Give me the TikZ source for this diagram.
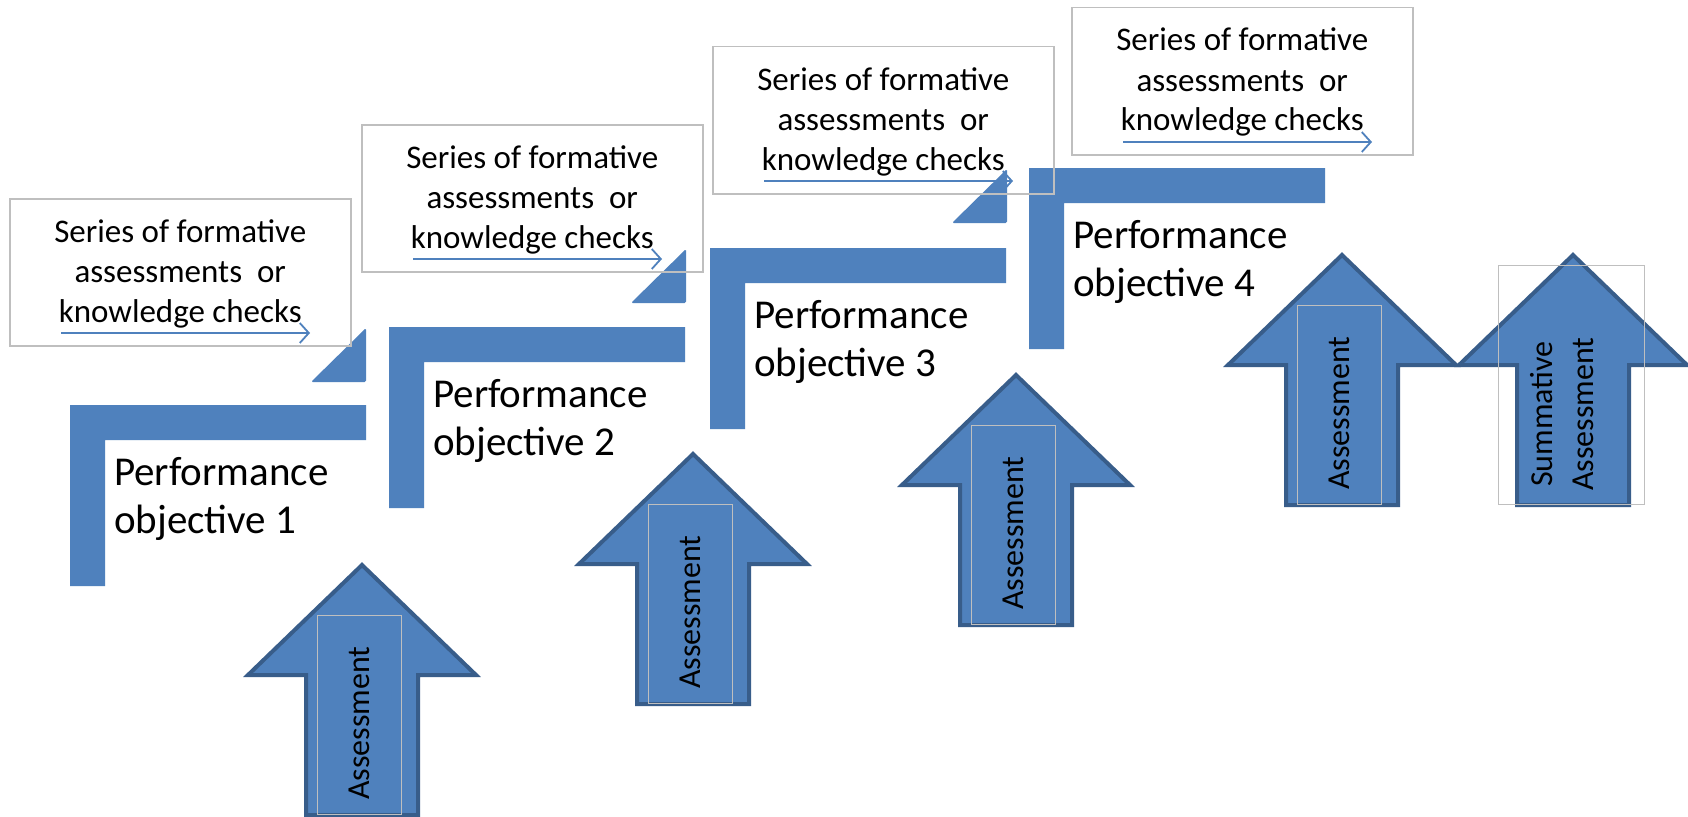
\documentclass[tikz,border=0pt]{standalone}
\usepackage{fontspec}
\setmainfont{Carlito}
\usetikzlibrary{arrows.meta,calc}
\definecolor{obl}{HTML}{4F81BD}
\definecolor{obd}{HTML}{385D8A}
\definecolor{gbox}{HTML}{BFBFBF}
\newcommand\myLbar[2]{\fill[lbar] (#1,#2) -- (#1+296,#2) -- (#1+296,#2+35) -- (#1+35,#2+35) -- (#1+35,#2+181) -- (#1,#2+181) -- cycle;}
\newcommand\myTri[2]{\fill[tri] (#1-55,#2) -- (#1,#2) -- (#1,#2-54) -- cycle;}
\newcommand\myUp[3]{% name, tipx, tipy
  \draw[upar] (#2,#3+3) -- (#2+114,#3+113) -- (#2+56,#3+113) -- (#2+56,#3+253) -- (#2-56,#3+253) -- (#2-56,#3+113) -- (#2-114,#3+113) -- cycle;
  \node[ibox, anchor=north west] (#1box) at (#2-45,#3+53) {};
  \node[atext] (#1txt) at (#2-3,#3+161) {Assessment};
}
\begin{document}
\begin{tikzpicture}[x=1pt,y=-1pt,
  lbar/.style={fill=obl},
  tri/.style={fill=obl, rounded corners=1.5pt},
  upar/.style={fill=obl, draw=obd, line width=4pt, line join=miter},
  tbox/.style={draw=gbox, line width=1.5pt, minimum width=341pt, minimum height=147pt, inner sep=0pt, anchor=north west},
  ibox/.style={draw=gbox, line width=1.3pt, minimum width=84pt, minimum height=199pt, inner sep=0pt},
  ftext/.style={font=\fontsize{33}{40}\selectfont, text width=340pt, align=flush center, inner sep=0pt, anchor=base},
  ptext/.style={font=\fontsize{41}{48}\selectfont, text width=260pt, align=flush left, inner sep=0pt, anchor=base west},
  atext/.style={font=\fontsize{32}{41}\selectfont, rotate=90, inner sep=0pt, align=center},
  flow/.style={draw=obl, line width=1.8pt, -{Straight Barb[length=9pt,width=20pt]}}
]
\useasboundingbox (0,0) rectangle (1688,816);
\fill[white] (0,0) rectangle (1688,816);

% L-shaped steps
\myLbar{70}{405}
\myLbar{389}{327}
\myLbar{710}{248}
\myLbar{1029}{168}
\coordinate (in1) at (105,440);
\coordinate (in2) at (424,362);
\coordinate (in3) at (745,283);
\coordinate (in4) at (1064,203);

% small triangles
\myTri{366}{382}
\myTri{686}{303}
\myTri{1007}{223}

% performance objective labels
\node[ptext] (p1) at ($(in1)+(9,45)$) {Performance\\objective 1};
\node[ptext] (p2) at ($(in2)+(9,45)$) {Performance\\objective 2};
\node[ptext] (p3) at ($(in3)+(9,45)$) {Performance\\objective 3};
\node[ptext] (p4) at ($(in4)+(9,45)$) {Performance\\objective 4};

% formative boxes
\foreach \n/\bx/\by in {1/9/198, 2/361/124, 3/712/46, 4/1071/7}{
  \node[tbox] (b\n) at (\bx,\by) {};
  \node[ftext] (t\n) at ($(b\n.north)+(0,44)$) {Series of formative\\assessments\ \ or\\knowledge checks};
  \coordinate (s\n) at ($(b\n.north west)+(52,135)$);
  \coordinate (e\n) at ($(b\n.north west)+(301,135)$);
  \draw[flow] (s\n) -- (e\n);
}

% assessment arrows
\myUp{a1}{362}{562}
\myUp{a2}{693}{451}
\myUp{a3}{1016}{372}
\myUp{a4}{1342}{252}
\draw[upar] (1573,255) -- (1687,365) -- (1629,365) -- (1629,505) -- (1517,505) -- (1517,365) -- (1459,365) -- cycle;
\node[draw=gbox, line width=1.3pt, minimum width=146pt, minimum height=239pt, inner sep=0pt, anchor=north west] (sbox) at (1498,265) {};
\node[atext] (stxt) at (1562,414) {Summative\\Assessment};
\end{tikzpicture}
\end{document}
